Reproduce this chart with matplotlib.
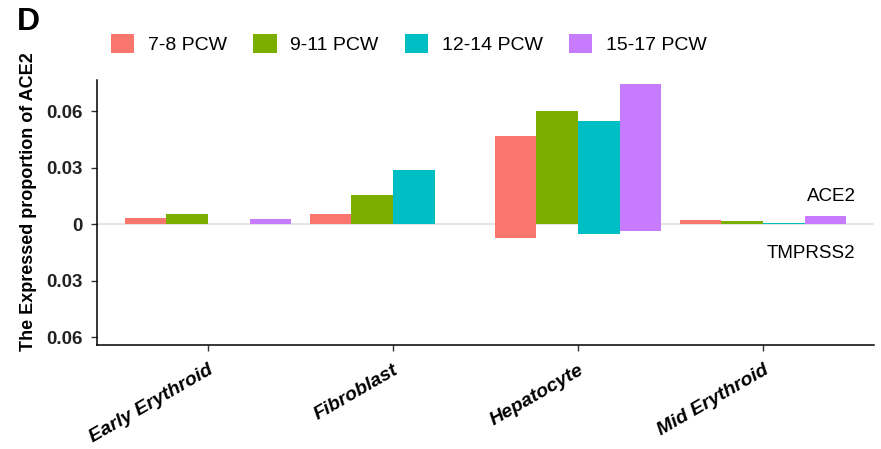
import numpy as np
import matplotlib
matplotlib.use("Agg")
import matplotlib.pyplot as plt
from matplotlib.patches import Patch
from matplotlib.ticker import FuncFormatter

plt.rcParams['font.family'] = ['Liberation Sans', 'DejaVu Sans']

cell_types = ["Early Erythroid", "Fibroblast", "Hepatocyte", "Mid Erythroid"]
stages = ["7-8 PCW", "9-11 PCW", "12-14 PCW", "15-17 PCW"]
colors = ["#F8766D", "#7CAE00", "#00BFC4", "#C77CFF"]

# ACE2 proportions (upper side), one list per stage across cell types
ace2 = {
    "7-8 PCW":   [0.0035, 0.0055, 0.0468, 0.0021],
    "9-11 PCW":  [0.0053, 0.0153, 0.0602, 0.0017],
    "12-14 PCW": [0.0,    0.0285, 0.0545, 0.0005],
    "15-17 PCW": [0.0030, 0.0,    0.0746, 0.0042],
}
# TMPRSS2 proportions (drawn downward)
tmprss2 = {
    "7-8 PCW":   [0.0, 0.0, 0.0076, 0.0],
    "9-11 PCW":  [0.0, 0.0, 0.0,    0.0],
    "12-14 PCW": [0.0, 0.0, 0.0050, 0.0],
    "15-17 PCW": [0.0, 0.0, 0.0035, 0.0],
}

fig = plt.figure(figsize=(8.81, 4.49), dpi=100)
ax = fig.add_axes([0.110, 0.232, 0.882, 0.590])

x = np.arange(len(cell_types))
width = 0.225
for i, st in enumerate(stages):
    offs = x + (i - 1.5) * width
    ax.bar(offs, ace2[st], width, color=colors[i], linewidth=0)
    ax.bar(offs, -np.array(tmprss2[st]), width, color=colors[i], linewidth=0)

ax.axhline(0, color="#e6e6e6", linewidth=1.5, zorder=0.5)

ax.set_xlim(-0.6, 3.6)
ax.set_ylim(-0.064, 0.0765)
ax.set_yticks([-0.06, -0.03, 0, 0.03, 0.06])
ax.yaxis.set_major_formatter(FuncFormatter(lambda v, p: "0" if abs(v) < 1e-9 else "%g" % abs(v)))
ax.set_xticks(x)
ax.set_xticklabels(cell_types, rotation=30, ha="right", va="top", rotation_mode="anchor",
                   fontsize=14, fontweight="bold", fontstyle="italic")
for lbl in ax.get_yticklabels():
    lbl.set_fontsize(13.5)
    lbl.set_fontweight("bold")
    lbl.set_color("#222222")

for s in ["top", "right"]:
    ax.spines[s].set_visible(False)
ax.spines["left"].set_linewidth(1.1)
ax.spines["bottom"].set_linewidth(1.1)
ax.tick_params(length=4, width=1, color="#333333")
ax.tick_params(axis="x", pad=8)
ax.tick_params(axis="y", pad=6)

ax.set_ylabel("The Expressed proportion of ACE2", fontsize=13, fontweight="bold")
ax.yaxis.set_label_coords(-0.077, 0.54)

ax.text(3.373, 0.0149, "ACE2", ha="center", va="center", fontsize=13.5)
ax.text(3.259, -0.0154, "TMPRSS2", ha="center", va="center", fontsize=13.5)

handles = [Patch(facecolor=c, edgecolor="none") for c in colors]
fig.legend(handles, stages, loc="center left", bbox_to_anchor=(0.126, 0.902),
           ncol=4, frameon=False, fontsize=14, handlelength=1.2, handleheight=1.13,
           columnspacing=1.35, handletextpad=0.7, borderpad=0, borderaxespad=0)

fig.text(0.019, 0.95, "D", fontsize=23, fontweight="bold", va="center")

fig.savefig("out.png", dpi=100)
